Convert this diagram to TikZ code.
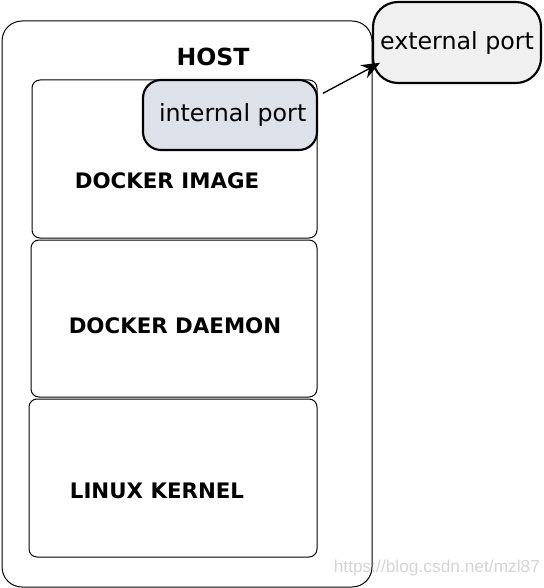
\documentclass[tikz,border=0pt]{standalone}
\usepackage{fontspec}
\setmainfont{DejaVu Sans}
\newfontfamily\markfont{Liberation Sans}
\usetikzlibrary{arrows.meta}
\definecolor{portBlue}{HTML}{DCE1EA}
\definecolor{portGray}{HTML}{F0F0F0}
\definecolor{markGray}{HTML}{D4D4D4}

\begin{document}
\begin{tikzpicture}[
    x=0.75pt, y=-0.75pt,
    every node/.style={inner sep=0pt, outer sep=0pt},
    layerbox/.style={draw, rounded corners=6pt, anchor=north west, line width=0.75pt},
    portbox/.style={draw, line width=1.6pt, anchor=north west, font=\fontsize{17.8}{20}\selectfont},
    layerlabel/.style={font=\bfseries\fontsize{16}{19}\selectfont},
    >={Stealth[length=14pt, width=11pt]}
  ]
  \useasboundingbox (0,0) rectangle (543,588);

  % host frame
  \node[layerbox, rounded corners=15pt, minimum width=277.5pt, minimum height=424.5pt] (host) at (2,21) {};
  \node[font=\bfseries\fontsize{17.7}{20}\selectfont] (hostlabel) at (213,57) {HOST};

  % the three layers
  \node[layerbox, minimum width=213.75pt, minimum height=118.5pt] (image) at (32,80) {};
  \node[layerbox, minimum width=214.5pt, minimum height=117.75pt] (daemon) at (31,240) {};
  \node[layerbox, minimum width=216pt, minimum height=118.5pt] (kernel) at (29,399) {};

  \node[layerlabel] (imagelabel) at (167,181) {DOCKER IMAGE};
  \node[layerlabel] (daemonlabel) at (175,326) {DOCKER DAEMON};
  \node[layerlabel] (kernellabel) at (157,491) {LINUX KERNEL};

  % ports
  \node[portbox, fill=portBlue, rounded corners=13.5pt, minimum width=130.5pt, minimum height=52.5pt] (inport) at (143,80) {\raisebox{-2pt}{\hspace*{4pt}internal port}};
  \node[portbox, fill=portGray, rounded corners=18.75pt, minimum width=126pt, minimum height=60.75pt] (export) at (373,2) {\raisebox{-1.5pt}{external port}};

  \draw[->, line width=1pt, shorten <=5pt, shorten >=-6pt] (inport.12) -- (export.196);

  % watermark
  \node[text=markGray, font=\markfont\fontsize{13}{15}\selectfont, anchor=east] (mark) at (540,568) {https://blog.csdn.net/mzl87};
\end{tikzpicture}
\end{document}
